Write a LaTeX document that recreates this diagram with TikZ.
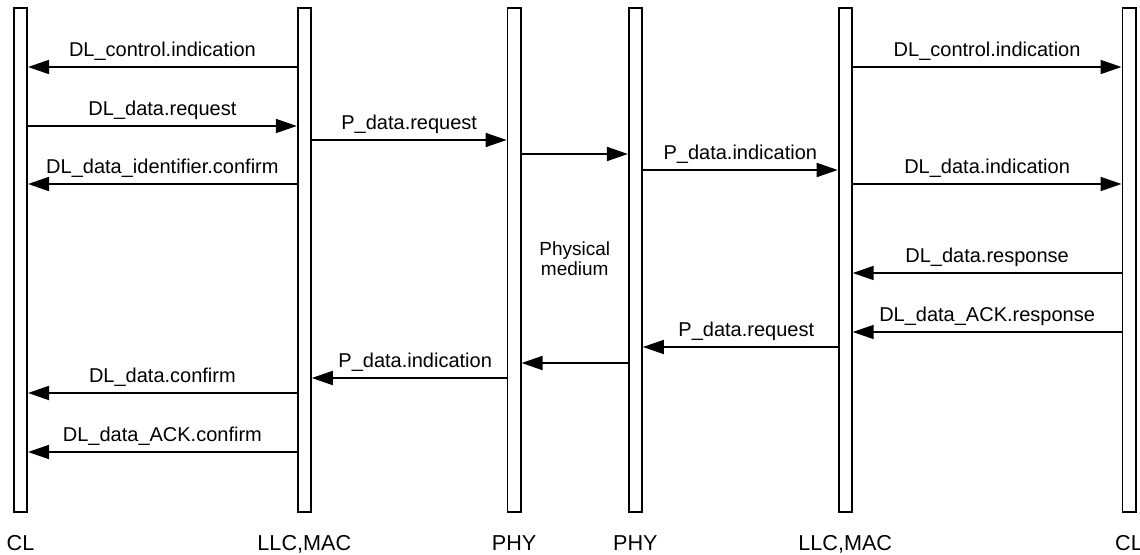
\documentclass[tikz,border=0pt]{standalone}
\usepackage{fontspec}
\setmainfont{Liberation Sans}
\usepackage{tikz}
\usetikzlibrary{arrows.meta,positioning}

\begin{document}
\begin{tikzpicture}[x=0.5pt, y=-0.5pt, font=\fontsize{10}{11}\selectfont,
	bar/.style={draw, line width=0.9pt, minimum width=6.6pt, minimum height=252.1pt, inner sep=0pt},
	layer/.style={inner sep=0pt, font=\fontsize{10.8}{12}\selectfont},
	msg/.style={line width=0.9pt, -{Triangle[length=10.5pt, width=7pt]}},
	msglabel/.style={midway, above=4.8pt, inner sep=0pt, text depth=0pt}]
		\useasboundingbox (0,0) rectangle (1140,555);
		
		% Layers of both stations
		\node[bar] (cl1) at (20.5,260) {};
		\node[bar] (llc1) [right=134.4pt of cl1] {};
		\node[bar] (phy1) [right=97.4pt of llc1] {};
		\node[bar] (phy2) [right=53.15pt of phy1] {};
		\node[bar] (llc2) [right=97.4pt of phy2] {};
		\node[bar] (cl2) [right=134.4pt of llc2] {};
		
		\node[layer] (lcl1) [below=11pt of cl1] {CL};
		\node[layer] (lllc1) [below=11pt of llc1] {LLC,MAC};
		\node[layer] (lphy1) [below=11pt of phy1] {PHY};
		\node[layer] (lphy2) [below=11pt of phy2] {PHY};
		\node[layer] (lllc2) [below=11pt of llc2] {LLC,MAC};
		\node[layer] (lcl2) [below=11pt of cl2] {CL};
		
		\path (phy1) -- node[align=center, font=\fontsize{9.5}{10.2}\selectfont, yshift=0.5pt] (medium) {Physical\\medium} (phy2);
		
		% Rows of the primitives
		\coordinate (r1) at (0,67);
		\coordinate (r2) at (0,126);
		\coordinate (r3) at (0,140);
		\coordinate (r4) at (0,154);
		\coordinate (r5) at (0,170);
		\coordinate (r6) at (0,184);
		\coordinate (r7) at (0,273);
		\coordinate (r8) at (0,332);
		\coordinate (r9) at (0,347);
		\coordinate (r10) at (0,363);
		\coordinate (r11) at (0,378);
		\coordinate (r12) at (0,393);
		\coordinate (r13) at (0,452);
		
		% Arrows
		\draw[msg] (llc1.west |- r1) -- (cl1.east |- r1) node[msglabel] {DL\_control.indication};
		\draw[msg] (llc2.east |- r1) -- (cl2.west |- r1) node[msglabel] {DL\_control.indication};
		\draw[msg] (cl1.east |- r2) -- (llc1.west |- r2) node[msglabel] {DL\_data.request};
		\draw[msg] (llc1.east |- r3) -- (phy1.west |- r3) node[msglabel] {P\_data.request};
		\draw[msg] (phy1.east |- r4) -- (phy2.west |- r4);
		\draw[msg] (phy2.east |- r5) -- (llc2.west |- r5) node[msglabel] {P\_data.indication};
		\draw[msg] (llc1.west |- r6) -- (cl1.east |- r6) node[msglabel] {DL\_data\_identifier.confirm};
		\draw[msg] (llc2.east |- r6) -- (cl2.west |- r6) node[msglabel] {DL\_data.indication};
		\draw[msg] (cl2.west |- r7) -- (llc2.east |- r7) node[msglabel] {DL\_data.response};
		\draw[msg] (cl2.west |- r8) -- (llc2.east |- r8) node[msglabel] {DL\_data\_ACK.response};
		\draw[msg] (llc2.west |- r9) -- (phy2.east |- r9) node[msglabel, xshift=3pt] {P\_data.request};
		\draw[msg] (phy2.west |- r10) -- (phy1.east |- r10);
		\draw[msg] (phy1.west |- r11) -- (llc1.east |- r11) node[msglabel, xshift=3pt] {P\_data.indication};
		\draw[msg] (llc1.west |- r12) -- (cl1.east |- r12) node[msglabel] {DL\_data.confirm};
		\draw[msg] (llc1.west |- r13) -- (cl1.east |- r13) node[msglabel] {DL\_data\_ACK.confirm};
	\end{tikzpicture}
\end{document}
